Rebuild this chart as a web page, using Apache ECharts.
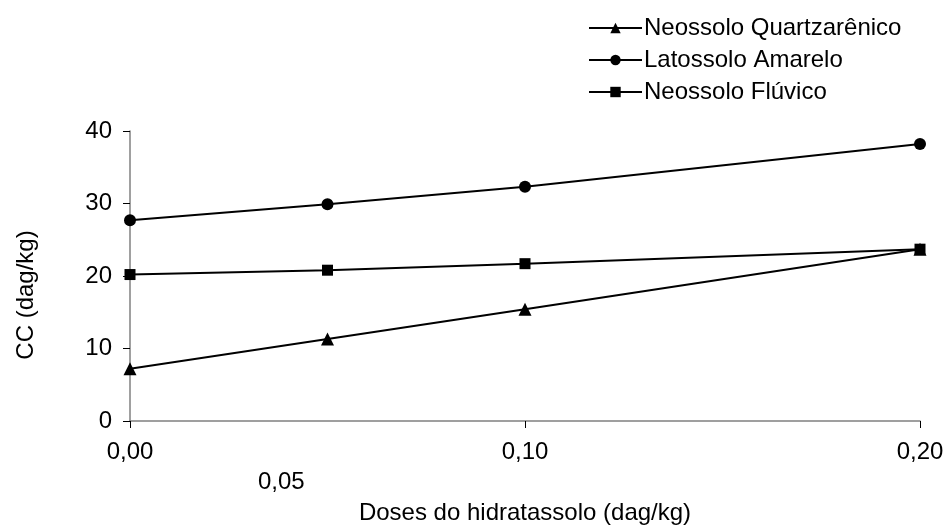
<!DOCTYPE html>
<html>
<head>
<meta charset="utf-8">
<script src="https://cdn.jsdelivr.net/npm/echarts@6/dist/echarts.min.js"></script>
<style>html,body{margin:0;padding:0;background:#fff;}#c{width:950px;height:526px;}</style>
</head>
<body>
<div id="c"></div>
<script>
var doses = [0.00, 0.05, 0.10, 0.20];
var seriesNames = ['Neossolo Quartzarênico', 'Latossolo Amarelo', 'Neossolo Flúvico'];
var quartzarenico = [7.2, 11.3, 15.4, 23.7];
var latossolo = [27.7, 29.9, 32.3, 38.2];
var fluvico = [20.2, 20.8, 21.7, 23.7];
var yTicks = [0, 10, 20, 30, 40];
var xTickLabels = ['0,00', '0,10', '0,20'];
var extraXLabel = '0,05';

function pairs(vals) { return doses.map(function (d, i) { return [d, vals[i]]; }); }

var font = '"Liberation Sans", Arial, sans-serif';
var FS = 24;
var chart = echarts.init(document.getElementById('c'));
var mk = function (name, vals, symbol, size) {
  return {
    name: name, type: 'line', data: pairs(vals), symbol: symbol, symbolSize: size,
    lineStyle: { color: '#000', width: 2 }, itemStyle: { color: '#000' },
    animation: false, z: symbol === 'rect' ? 3 : 2
  };
};
chart.setOption({
  animation: false,
  backgroundColor: '#fff',
  textStyle: { fontFamily: font },
  grid: { left: 130, right: 30, top: 131, bottom: 105, containLabel: false, outerBoundsMode: 'none' },
  legend: {
    orient: 'vertical', left: 583, top: 11, itemGap: 8, itemWidth: 53, itemHeight: 13,
    textStyle: { fontFamily: font, fontSize: FS, color: '#000', padding: [0, 0, 0, -3] },
    data: seriesNames
  },
  xAxis: {
    type: 'value', min: 0, max: 0.2, interval: 0.1,
    name: 'Doses do hidratassolo (dag/kg)', nameLocation: 'middle', nameGap: 80,
    nameTextStyle: { fontFamily: font, fontSize: FS, color: '#000' },
    axisLine: { lineStyle: { color: '#808080', width: 1.5 } },
    axisTick: { show: true, inside: false, length: 7, lineStyle: { color: '#000' } },
    splitLine: { show: false },
    axisLabel: {
      fontFamily: font, fontSize: FS, color: '#000', margin: 19,
      formatter: function (v) { var i = Math.round(v / 0.1); return xTickLabels[i] || ''; }
    }
  },
  yAxis: {
    type: 'value', min: yTicks[0], max: yTicks[yTicks.length - 1], interval: 10,
    axisLine: { show: true, lineStyle: { color: '#808080', width: 1.5 } },
    axisTick: { show: true, inside: false, length: 7, lineStyle: { color: '#000' } },
    splitLine: { show: false },
    axisLabel: { fontFamily: font, fontSize: FS, color: '#000', margin: 18 }
  },
  graphic: [{
    type: 'text', left: 258, top: 470,
    style: { text: extraXLabel, fontFamily: font, fontSize: FS, fill: '#000' }
  }, {
    type: 'text', x: 26, y: 295, rotation: Math.PI / 2,
    style: { text: 'CC (dag/kg)', fontFamily: font, fontSize: FS, fill: '#000', align: 'center', verticalAlign: 'middle' }
  }],
  series: [
    mk(seriesNames[0], quartzarenico, 'triangle', 13),
    mk(seriesNames[1], latossolo, 'circle', 12),
    mk(seriesNames[2], fluvico, 'rect', 11)
  ]
});
</script>
</body>
</html>
